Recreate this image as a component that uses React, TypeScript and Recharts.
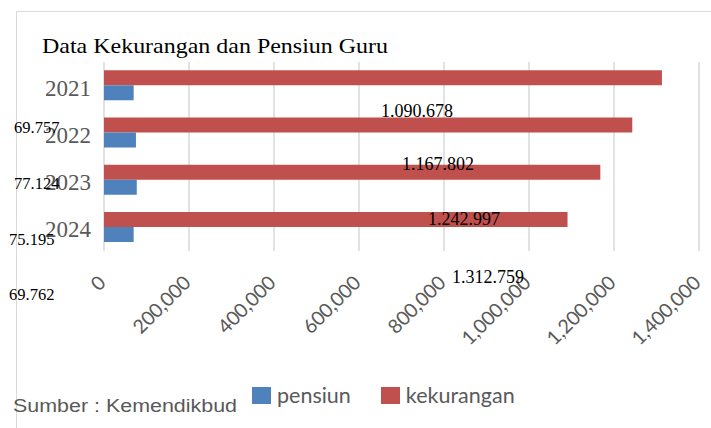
import React from "react";
import { BarChart, Bar, XAxis, YAxis, CartesianGrid, Legend } from "recharts";

const years = ["2021", "2022", "2023", "2024"];
const kekurangan = [1312759, 1242997, 1167802, 1090678];
const pensiun = [69762, 75195, 77124, 69757];
const xTicks = [0, 200000, 400000, 600000, 800000, 1000000, 1200000, 1400000];

const RED = "#C0504D";
const BLUE = "#4F81BD";
const GREY = "#595959";

// the floating value labels in the source image sit off their bars (reversed order)
const redLabelPos = [
  { x: 381, y: 117 },
  { x: 402, y: 170 },
  { x: 428, y: 225 },
  { x: 452, y: 283 },
];
const blueLabelPos = [
  { x: 14, y: 133 },
  { x: 14, y: 189 },
  { x: 9, y: 245 },
  { x: 9, y: 300 },
];

const data = years.map((y, i) => ({ year: y, kekurangan: kekurangan[i], pensiun: pensiun[i] }));

const dots = (v: number) => String(v).replace(/\B(?=(\d{3})+(?!\d))/g, ".");
const commas = (v: number) => String(v).replace(/\B(?=(\d{3})+(?!\d))/g, ",");

function YearTick({ x, y, payload }: any) {
  return (
    <text x={x} y={y} dy={10} textAnchor="end" fill={GREY}
      style={{ fontFamily: "Liberation Serif", fontSize: 23 }}>
      {payload.value}
    </text>
  );
}

function ValueTick({ x, y, payload }: any) {
  const tx = x + 3;
  return (
    <text x={tx} y={y} textAnchor="end" fill={GREY} transform={`rotate(-45, ${tx}, ${y})`}
      style={{ fontFamily: "Lato", fontSize: 19.5 }}>
      {commas(payload.value)}
    </text>
  );
}

const legendItems = [
  { name: "pensiun", color: BLUE },
  { name: "kekurangan", color: RED },
];

function LegendBox() {
  return (
    <div style={{ display: "flex", alignItems: "center", fontFamily: "Lato", fontSize: 21.5, color: GREY }}>
      {legendItems.map((it, i) => (
        <div key={it.name} style={{ display: "flex", alignItems: "center", marginRight: i === 0 ? 30 : 0 }}>
          <span style={{ width: 19, height: 17, background: it.color, display: "inline-block", marginRight: 6 }} />
          <span style={{ lineHeight: "24px" }}>{it.name}</span>
        </div>
      ))}
    </div>
  );
}

export default function App() {
  return (
    <div style={{ position: "absolute", left: 0, top: 0, width: 711, height: 428, background: "#fff", overflow: "hidden" }}>
      <div style={{ position: "absolute", left: 16, top: 11, right: -2, bottom: -2, borderLeft: "1px solid #d9d9d9", borderTop: "1px solid #d9d9d9" }} />
      <BarChart
        width={711}
        height={428}
        data={data}
        layout="vertical"
        margin={{ top: 62, right: 12, left: 0, bottom: 117 }}
        barCategoryGap="17.5%"
        barGap={0}
      >
        <CartesianGrid horizontal={false} stroke="#d9d9d9" strokeWidth={1.5} />
        <XAxis
          type="number"
          domain={[0, 1400000]}
          ticks={xTicks}
          height={60}
          axisLine={false}
          tickLine={false}
          tickSize={0}
          tickMargin={33}
          interval={0}
          tick={<ValueTick />}
        />
        <YAxis
          type="category"
          dataKey="year"
          width={104}
          axisLine={false}
          tickLine={false}
          tickSize={0}
          tickMargin={13}
          tick={<YearTick />}
        />
        <Legend
          layout="horizontal"
          verticalAlign="middle"
          align="center"
          content={<LegendBox />}
          wrapperStyle={{ left: 252, top: 383, width: "auto", height: "auto" }}
        />
        <Bar dataKey="kekurangan" name="kekurangan" fill={RED} isAnimationActive={false} />
        <Bar dataKey="pensiun" name="pensiun" fill={BLUE} isAnimationActive={false} />
      </BarChart>
      <svg width={711} height={428} style={{ position: "absolute", left: 0, top: 0, pointerEvents: "none" }}>
        <text x={42} y={53} fill="#000" textLength={346} lengthAdjust="spacingAndGlyphs"
          style={{ fontFamily: "Liberation Serif", fontSize: 21 }}>
          Data Kekurangan dan Pensiun Guru
        </text>
        <text x={13} y={412} fill={GREY} textLength={224} lengthAdjust="spacingAndGlyphs"
          style={{ fontFamily: "Liberation Sans", fontSize: 17.5 }}>
          Sumber : Kemendikbud
        </text>
        {redLabelPos.map((p, i) => (
          <text key={"r" + i} x={p.x} y={p.y} fill="#000" style={{ fontFamily: "Liberation Serif", fontSize: 18 }}>
            {dots(kekurangan[years.length - 1 - i])}
          </text>
        ))}
        {blueLabelPos.map((p, i) => (
          <text key={"b" + i} x={p.x} y={p.y} fill="#000" style={{ fontFamily: "Liberation Serif", fontSize: 16.5 }}>
            {dots(pensiun[years.length - 1 - i])}
          </text>
        ))}
      </svg>
    </div>
  );
}
